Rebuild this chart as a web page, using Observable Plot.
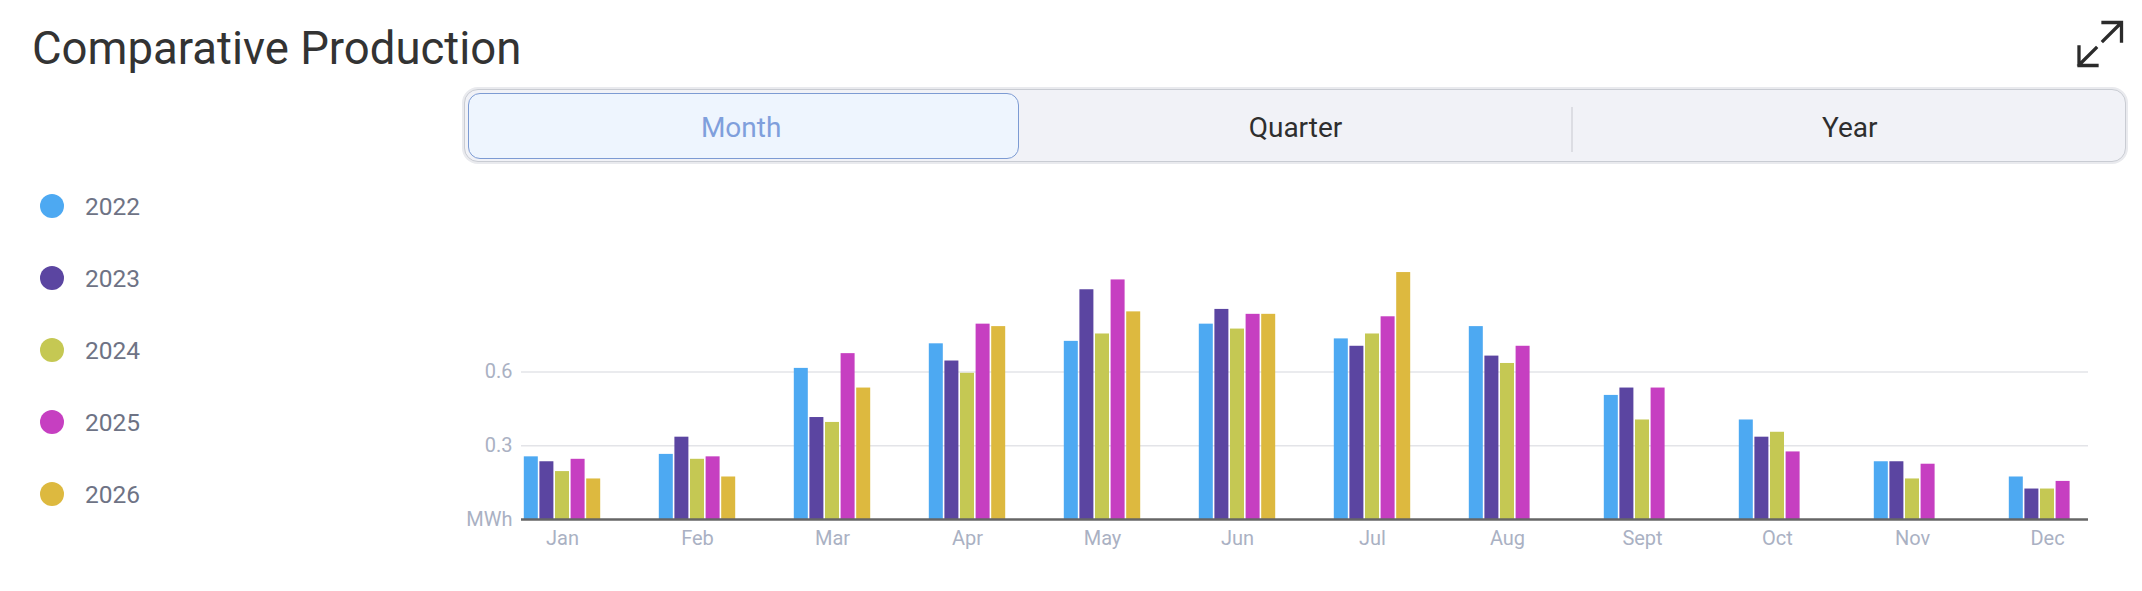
<!DOCTYPE html>
<html>
<head>
<meta charset="utf-8">
<script src="https://cdn.jsdelivr.net/npm/d3@7"></script>
<script src="https://cdn.jsdelivr.net/npm/@observablehq/plot@0.6"></script>
<style>
  html, body { margin: 0; padding: 0; background: #fff; }
  body { width: 2142px; height: 591px; position: relative; overflow: hidden; font-family: Roboto, "Noto Sans", sans-serif; }
  .title { position: absolute; left: 32px; top: 22px; font-size: 45.5px; color: #333; line-height: normal; white-space: nowrap; }
  .icon { position: absolute; left: 0; top: 0; }
  .ctrl { position: absolute; left: 464px; top: 89px; width: 1660px; height: 71px; border: 1.5px solid #c9ccd3; border-radius: 14px; background: #f1f2f7; box-shadow: 0 0 0 2px #e9eaee; }
  .sel { position: absolute; left: 468px; top: 93px; width: 549px; height: 64px; border: 1.5px solid #7d9bd3; border-radius: 12px; background: #eef5fe; }
  .seg { position: absolute; top: 90px; height: 74px; display: flex; align-items: center; justify-content: center; font-size: 28px; color: #2e2e2e; }
  .sep { position: absolute; left: 1571px; top: 107px; width: 1.5px; height: 45px; background: #dcdde3; }
  .leg { position: absolute; left: 40px; height: 24px; display: flex; align-items: center; font-size: 24.5px; color: #6e7385; }
  .dot { width: 24px; height: 24px; border-radius: 50%; margin-right: 21px; }
  #chart { position: absolute; left: 0; top: 190px; }
</style>
</head>
<body>
<div class="title">Comparative Production</div>
<svg class="icon" width="2142" height="80">
  <g fill="none" stroke="#2b2b2b" stroke-width="3.3" stroke-linecap="square">
    <path d="M2103,41 L2121,23 M2103,22.5 L2121.5,22.5 L2121.5,41"/>
    <path d="M2096,48 L2079,65 M2079,47 L2079,65.5 L2097,65.5"/>
  </g>
</svg>
<div class="ctrl"></div>
<div class="sel"></div>
<div class="sep"></div>
<div id="segs"></div>
<div id="legend"></div>
<div id="chart"></div>
<script>
// ---- data ----
const months = ["Jan","Feb","Mar","Apr","May","Jun","Jul","Aug","Sept","Oct","Nov","Dec"];
const years = ["2022","2023","2024","2025","2026"];
const values2022 = [0.255, 0.265, 0.615, 0.715, 0.725, 0.795, 0.735, 0.785, 0.505, 0.405, 0.235, 0.173];
const values2023 = [0.235, 0.335, 0.415, 0.645, 0.935, 0.855, 0.705, 0.665, 0.535, 0.335, 0.235, 0.124];
const values2024 = [0.195, 0.245, 0.395, 0.595, 0.755, 0.775, 0.755, 0.635, 0.405, 0.355, 0.165, 0.124];
const values2025 = [0.245, 0.255, 0.675, 0.795, 0.975, 0.835, 0.825, 0.705, 0.535, 0.275, 0.225, 0.155];
const values2026 = [0.165, 0.173, 0.535, 0.785, 0.845, 0.835, 1.005, null, null, null, null, null];
const yTicks = [0, 0.3, 0.6];
const yTickLabels = ["MWh", "0.3", "0.6"];
const gridTicks = [0.3, 0.6];
const periods = ["Month", "Quarter", "Year"];

// ---- styles ----
const yearColors = ["#4da9f2", "#5b45a1", "#c5c853", "#c63fc1", "#ddb93f"];

const series = [values2022, values2023, values2024, values2025, values2026];
const rows = years.flatMap((yr, yi) =>
  series[yi].map((v, mi) => ({ month: months[mi], year: yr, value: v }))
).filter(d => d.value != null);

// segmented control texts
const segLeft = 464, segW = 1663 / 3;
const segs = document.getElementById("segs");
periods.forEach((p, i) => {
  const el = document.createElement("div");
  el.className = "seg";
  el.style.left = (segLeft + i * segW) + "px";
  el.style.width = segW + "px";
  if (i === 0) el.style.color = "#7f9fdc";
  el.textContent = p;
  segs.appendChild(el);
});

// legend
const legend = document.getElementById("legend");
years.forEach((yr, i) => {
  const el = document.createElement("div");
  el.className = "leg";
  el.style.top = (194 + i * 72) + "px";
  const dot = document.createElement("div");
  dot.className = "dot";
  dot.style.background = yearColors[i];
  el.appendChild(dot);
  el.appendChild(document.createTextNode(yr));
  legend.appendChild(el);
});

const labelMap = new Map(yTicks.map((t, i) => [t, yTickLabels[i]]));
const slot = 15.6;

const chart = Plot.plot({
  width: 2142,
  height: 400,
  marginLeft: 521,
  marginRight: 54,
  marginTop: 71,
  marginBottom: 71,
  style: { fontFamily: "Roboto", fontSize: "20px", color: "#aab1c3", background: "transparent", overflow: "visible" },
  x: { domain: months, paddingInner: 0.8996, paddingOuter: 0.2303, align: 0.5, tickSize: 0, tickPadding: 11, label: null },
  y: { domain: [0, 1.05], ticks: yTicks, tickFormat: d => labelMap.get(d), tickSize: 0, tickPadding: 9, label: null },
  color: { domain: years, range: yearColors },
  marks: [
    Plot.ruleY(gridTicks, { stroke: "#e3e4e8", strokeWidth: 1.5 }),
    ...years.map((yr, yi) =>
      Plot.barY(rows.filter(d => d.year === yr), { x: "month", y: "value", fill: "year", dx: (yi - 2) * slot })
    ),
    Plot.ruleY([0], { stroke: "#666", strokeWidth: 2.5 })
  ]
});
document.getElementById("chart").appendChild(chart);
</script>
</body>
</html>
